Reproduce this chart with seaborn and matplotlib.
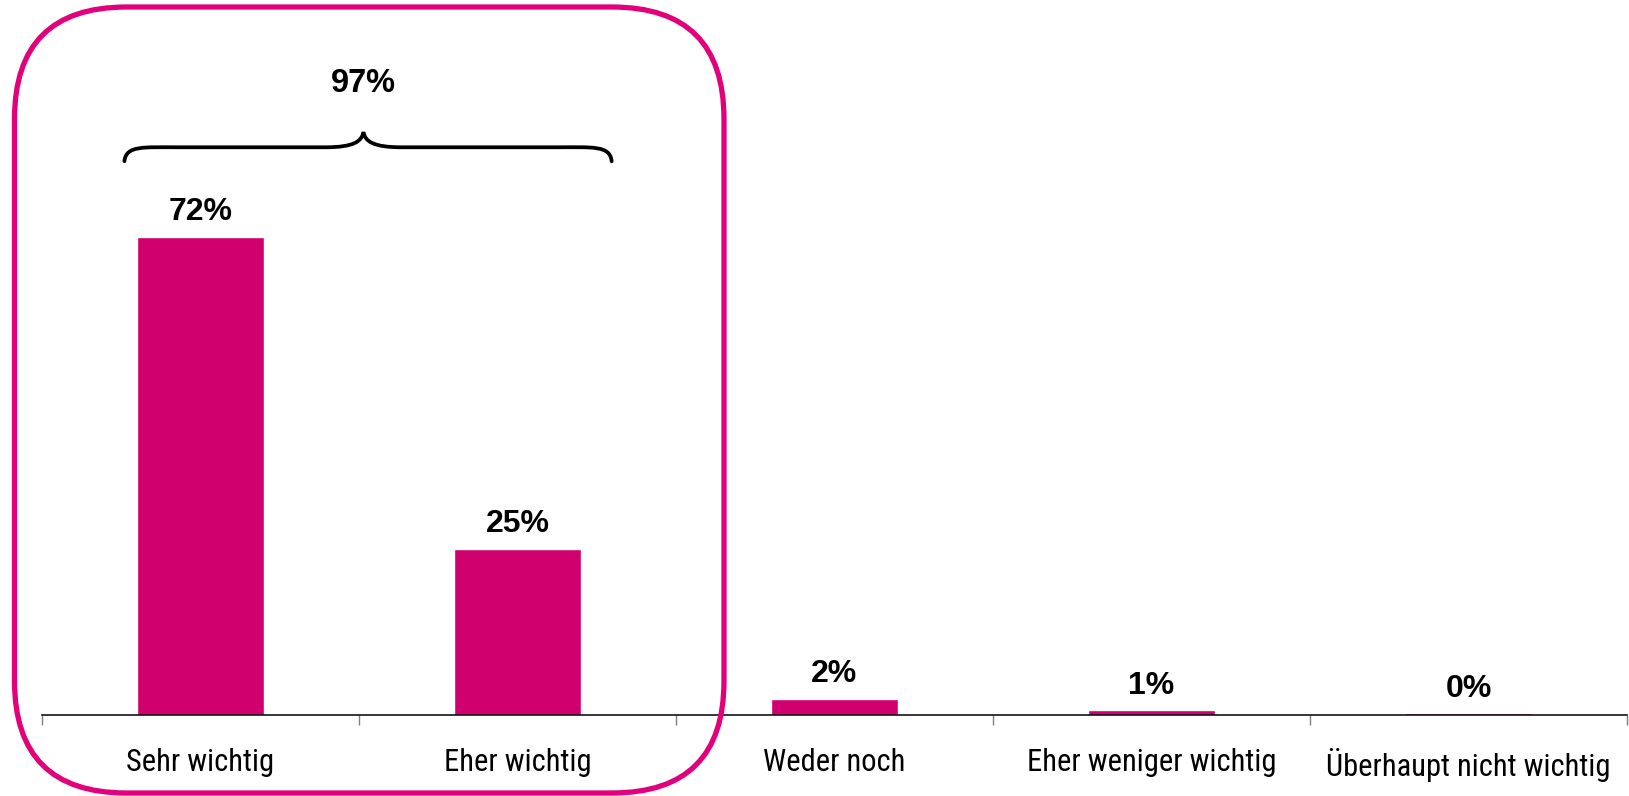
import matplotlib
matplotlib.use("Agg")
import matplotlib.pyplot as plt
import matplotlib.transforms as mtransforms
from matplotlib.patches import FancyBboxPatch, PathPatch
from matplotlib.path import Path
import seaborn as sns
import pandas as pd

categories = ["Sehr wichtig", "Eher wichtig", "Weder noch",
              "Eher weniger wichtig", "Überhaupt nicht wichtig"]
values = [72, 25, 2.4, 0.7, 0.25]
value_labels = ["72%", "25%", "2%", "1%", "0%"]
sum_label = "97%"

BAR = "#D0006F"
BOX = "#E3007B"

sns.set_theme(style="white")
plt.rcParams["font.family"] = ["Liberation Sans", "DejaVu Sans"]

W, H = 1629, 796
fig = plt.figure(figsize=(W / 100, H / 100), dpi=100)
ax = fig.add_axes([42 / W, 81 / H, 1585 / W, 664 / H])

df = pd.DataFrame({"cat": categories, "val": values})
sns.barplot(data=df, x="cat", y="val", color=BAR, saturation=1,
            width=0.4, ax=ax)

ax.set_xlim(-0.5, len(categories) - 0.5)
ax.set_ylim(0, 100)
ax.set_xlabel("")
ax.set_ylabel("")
ax.set_yticks([])
for s in ["left", "right", "top"]:
    ax.spines[s].set_visible(False)
ax.spines["bottom"].set_color("black")
ax.spines["bottom"].set_linewidth(1.1)

ax.set_xticks(range(len(categories)))
ax.set_xticklabels(categories)
ax.set_xticks([i - 0.5 for i in range(len(categories) + 1)], minor=True)
ax.tick_params(axis="x", which="major", length=0, pad=24)
ax.tick_params(axis="x", which="minor", length=7, width=1, color="#808080",
               bottom=True)
for lab in ax.get_xticklabels():
    lab.set_family(["Liberation Sans Narrow", "Roboto Condensed", "Liberation Sans"])
    lab.set_fontsize(22)
    lab.set_color("black")

for i, (v, t) in enumerate(zip(values, value_labels)):
    ax.text(i, v + 3.7, t, ha="center", va="center", fontsize=23,
            fontweight="bold", color="black", clip_on=False)

# brace over the first two bars
xl, xr, tip = -0.24, 1.297, 0.514
ye, yf, yt = 83.4, 85.5, 87.8
verts = [
    (xl, ye),
    (xl + 0.005, yf + 0.3), (xl + 0.06, yf), (xl + 0.17, yf),
    (tip - 0.12, yf),
    (tip - 0.03, yf), (tip - 0.005, yf + 0.9), (tip, yt),
    (tip + 0.005, yf + 0.9), (tip + 0.03, yf), (tip + 0.12, yf),
    (xr - 0.17, yf),
    (xr - 0.06, yf), (xr - 0.005, yf + 0.3), (xr, ye),
]
codes = [Path.MOVETO,
         Path.CURVE4, Path.CURVE4, Path.CURVE4,
         Path.LINETO,
         Path.CURVE4, Path.CURVE4, Path.CURVE4,
         Path.CURVE4, Path.CURVE4, Path.CURVE4,
         Path.LINETO,
         Path.CURVE4, Path.CURVE4, Path.CURVE4]
ax.add_patch(PathPatch(Path(verts, codes), fill=False, lw=2.7,
                       edgecolor="black", clip_on=False, capstyle="round"))
ax.text(tip, 95.1, sum_label, ha="center", va="center", fontsize=23.5,
        fontweight="bold", color="black", clip_on=False)

# rounded highlight box (display pixels)
x0, x1 = 14.5, 724
y0, y1 = H - 793, H - 7
box = FancyBboxPatch((x0, y0), x1 - x0, y1 - y0,
                     boxstyle="round,pad=0,rounding_size=112",
                     transform=mtransforms.IdentityTransform(),
                     fill=False, edgecolor=BOX, lw=3.8, clip_on=False)
fig.add_artist(box)

fig.savefig("out.png", dpi=100)
